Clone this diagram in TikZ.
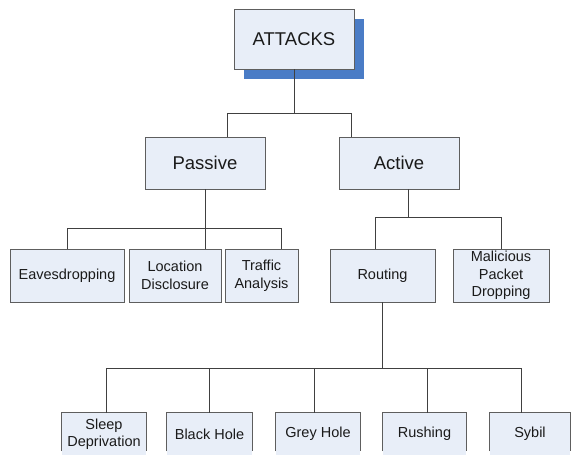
\documentclass[tikz,border=0pt]{standalone}
\usepackage{fontspec}
\setmainfont{Liberation Sans}
\begin{document}
\begin{tikzpicture}[x=1pt,y=-1pt,
  box/.style={draw=boxline, line width=0.9pt, fill=boxfill, text=txt, inner sep=1pt, align=center, font=\fontsize{14.5}{17.5}\selectfont},
  openbox/.style={fill=boxfill, text=txt, inner sep=1pt, align=center, font=\fontsize{14.5}{17.5}\selectfont},
  border/.style={draw=boxline, line width=0.9pt},
  big/.style={font=\fontsize{18.5}{22}\selectfont},
  conn/.style={draw=connline, line width=0.9pt},
  shadowbox/.style={fill=shadowblue}]
\definecolor{boxfill}{HTML}{E8EEF8}
\definecolor{boxline}{HTML}{5E5E5E}
\definecolor{connline}{HTML}{404040}
\definecolor{txt}{HTML}{1A1A1A}
\definecolor{shadowblue}{HTML}{4A7CC6}
\useasboundingbox (0,0) rectangle (571,455);
% top
\fill[shadowbox] (244,19) rectangle (364,79);
\node[box,big,minimum width=120pt,minimum height=60pt] (att) at (294,39) {ATTACKS};
\node[box,big,minimum width=120pt,minimum height=52pt] (pas) at (205,163) {Passive};
\node[box,big,minimum width=120pt,minimum height=52pt] (act) at (399,163) {Active};
% second level
\node[box,minimum width=114pt,minimum height=53pt] (eav) at (67,275.5) {Eavesdropping};
\node[box,minimum width=92pt,minimum height=53pt] (loc) at (175,275.5) {Location\\Disclosure};
\node[box,minimum width=73pt,minimum height=53pt] (tra) at (261.5,275.5) {Traffic\\Analysis};
\node[box,minimum width=105pt,minimum height=53pt] (rou) at (382.5,275.5) {Routing};
\node[box,minimum width=96pt,minimum height=53pt] (mal) at (501,275.5) {Malicious\\Packet\\Dropping};
% bottom level (cut by the page edge)
\node[openbox,minimum width=84pt,minimum height=42pt] (sd) at (104,434) {Sleep\\Deprivation};
\node[openbox,minimum width=85pt,minimum height=42pt] (bh) at (209.5,434) {Black Hole};
\node[openbox,minimum width=84pt,minimum height=42pt] (gh) at (318,434) {Grey Hole};
\node[openbox,minimum width=83pt,minimum height=42pt] (ru) at (424.5,434) {Rushing};
\node[openbox,minimum width=80pt,minimum height=42pt] (sy) at (530,434) {Sybil};
\foreach \n in {sd,bh,gh,ru,sy}{
  \draw[border] ([yshift=4pt]\n.south west) -- (\n.north west) -- (\n.north east) -- ([yshift=4pt]\n.south east);
}
% junction levels
\coordinate (jA) at (0,113);
\coordinate (jB) at (0,228);
\coordinate (jC) at (0,217);
\coordinate (jD) at (0,368);
% connectors
\draw[conn] (att.south) -- (att.south |- jA);
\draw[conn] ([xshift=22pt]pas.north) |- ([xshift=-48pt]act.north |- jA) -- ([xshift=-48pt]act.north);
\draw[conn] (pas.south) -- (pas.south |- loc.north);
\draw[conn] (eav.north) |- ([xshift=19.5pt]tra.north |- jB) -- ([xshift=19.5pt]tra.north);
\draw[conn] ([xshift=9pt]act.south) -- ([xshift=9pt]act.south |- jC);
\draw[conn] ([xshift=-7.5pt]rou.north) |- (mal.north |- jC) -- (mal.north);
\draw[conn] (rou.south) -- (rou.south |- jD);
\draw[conn] ([xshift=2pt]sd.north) |- ([xshift=-9pt]sy.north |- jD) -- ([xshift=-9pt]sy.north);
\draw[conn] (bh.north) -- (bh.north |- jD);
\draw[conn] ([xshift=-4pt]gh.north) -- ([xshift=-4pt]gh.north |- jD);
\draw[conn] ([xshift=2.5pt]ru.north) -- ([xshift=2.5pt]ru.north |- jD);
\end{tikzpicture}
\end{document}
